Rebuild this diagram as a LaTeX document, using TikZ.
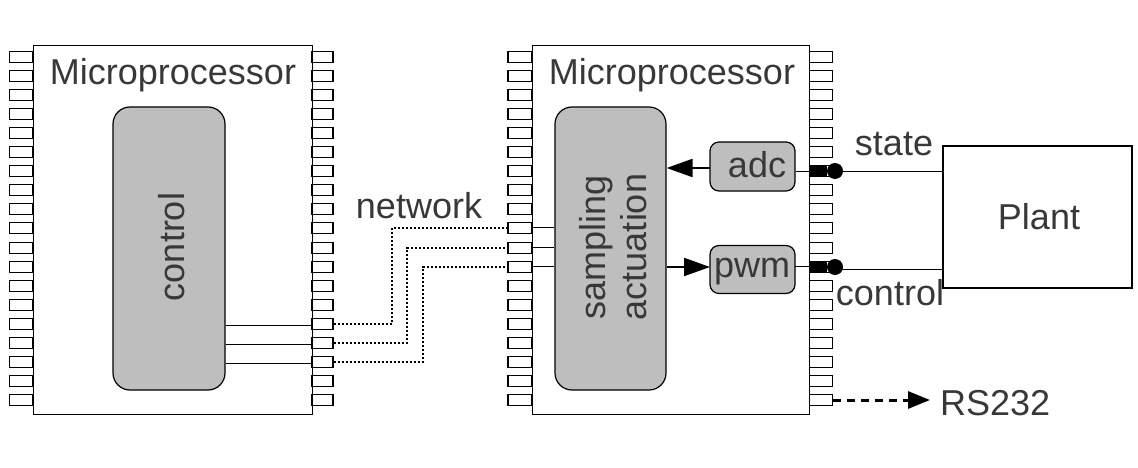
\documentclass[tikz,border=0pt]{standalone}
\usepackage{fontspec}
\setmainfont{Liberation Sans}
\usetikzlibrary{arrows.meta}
\definecolor{txtgray}{gray}{.22}
\definecolor{boxgray}{gray}{.745}
\tikzset{
  chip/.style={draw,line width=1.2pt,fill=white,anchor=north west,inner sep=0pt},
  pin/.style={draw,line width=1.2pt,fill=white,inner sep=0pt,minimum height=11pt},
  block/.style={draw,line width=1.2pt,fill=boxgray,rounded corners=17pt,inner sep=0pt},
  iobox/.style={draw,line width=1.2pt,fill=boxgray,rounded corners=9pt,inner sep=0pt},
  lbl/.style={text=txtgray,font=\fontsize{36}{41}\selectfont,inner sep=0pt},
  wire/.style={line width=1.1pt},
  net/.style={line width=2pt,dotted},
  tip/.style={-{Triangle[length=26pt,width=18pt]},line width=2pt},
  dot/.style={circle,fill,inner sep=0pt,minimum size=16pt}
}
\begin{document}
\begin{tikzpicture}[x=1pt,y=-1pt]
      \useasboundingbox (0,0) rectangle (1138,468);
      \node[chip,minimum width=279pt,minimum height=369pt] (chipA) at (33,45) {};
      \node[chip,minimum width=277pt,minimum height=369pt] (chipB) at (532,45) {};
      % pins, 19 per side
      \foreach \i in {1,...,19} {
        \pgfmathsetmacro{\py}{round(57+(\i-1)*19.05)}
        \node[pin,minimum width=23pt] (aL\i) at (21,\py) {};
        \node[pin,minimum width=21pt] (aR\i) at (322.5,\py) {};
        \node[pin,minimum width=24pt] (bL\i) at (520,\py) {};
        \node[pin,minimum width=23pt] (bR\i) at (821,\py) {};
      }
      \node[lbl] (titleA) at (173,75) {Microprocessor};
      \node[lbl] (titleB) at (672,75) {Microprocessor};
      \node[block,minimum width=112pt,minimum height=283pt] (control) at (169,248.5) {};
      \node[lbl,rotate=90] (controlText) at (172,247) {control};
      \node[block,minimum width=111pt,minimum height=283pt] (sampling) at (610.5,248.5) {};
      \node[lbl,rotate=90,align=center] (samplingText) at (613,247) {sampling\\actuation};
      \node[iobox,minimum width=85pt,minimum height=49pt] (adc) at (752.5,166.5) {};
      \node[lbl] (adcText) at (757,165) {adc};
      \node[iobox,minimum width=85pt,minimum height=48pt] (pwm) at (752.5,269.5) {};
      \node[lbl] (pwmText) at (752,272) {pwm};
      \node[draw,line width=1.1pt,minimum width=189pt,minimum height=142pt,inner sep=0pt] (plant) at (1037.5,217) {};
      \node[lbl] (plantText) at (1039,217) {Plant};
      \node[lbl] (networkText) at (419,206) {network};
      \node[lbl] (stateText) at (894,144) {state};
      \node[lbl] (controlOut) at (890,293) {control};
      \node[lbl,anchor=west] (rsText) at (940,403) {RS232};
      % control to its pins
      \foreach \i in {15,16,17} {
        \coordinate[yshift=-1.5pt] (cw\i) at (aR\i.west);
        \draw[wire] (control.east |- cw\i) -- (cw\i);
      }
      % sampling from its pins
      \foreach \i in {10,11,12} {
        \coordinate[yshift=.5pt] (sw\i) at (bL\i.east);
        \draw[wire] (sw\i) -- (sampling.west |- sw\i);
      }
      % network
      \coordinate (netA) at (392,0);
      \coordinate (netB) at (407,0);
      \coordinate (netC) at (423,0);
      \draw[net] (aR15.east) -| (netA |- bL10.west) -- (bL10.west);
      \draw[net] (aR16.east) -| (netB |- bL11.west) -- (bL11.west);
      \draw[net] (aR17.east) -| (netC |- bL12.west) -- (bL12.west);
      % adc and pwm
      \coordinate (adcIn) at (710,168);
      \coordinate (pwmIn) at (710,267);
      \draw[tip] (adcIn) -- (adcIn -| sampling.east);
      \draw[tip] (pwmIn -| sampling.east) -- (pwmIn);
      \node[dot] (stateDot) at (835,171) {};
      \node[dot] (controlDot) at (835,267) {};
      \coordinate (stateLine) at (835,171.5);
      \coordinate (controlLine) at (835,269.5);
      \coordinate (pwmOut) at (795,266.5);
      \draw[wire] (adc.east |- stateLine) -- (stateLine);
      \draw[wire] (pwmOut) -- (pwmOut -| controlDot);
      \draw[line width=11pt] (bR7.west) -- (stateDot);
      \draw[line width=11pt] (bR12.west) -- (controlDot);
      \draw[wire] (stateLine) -- (stateLine -| plant.west);
      \draw[wire] (controlLine) -- (controlLine -| plant.west);
      % serial port
      \coordinate (rsEnd) at (930,400);
      \draw[line width=3pt,dash pattern=on 8pt off 6pt,-{Triangle[length=22pt,width=17pt]}] (bR19.east) -- (rsEnd);
    \end{tikzpicture}
\end{document}
